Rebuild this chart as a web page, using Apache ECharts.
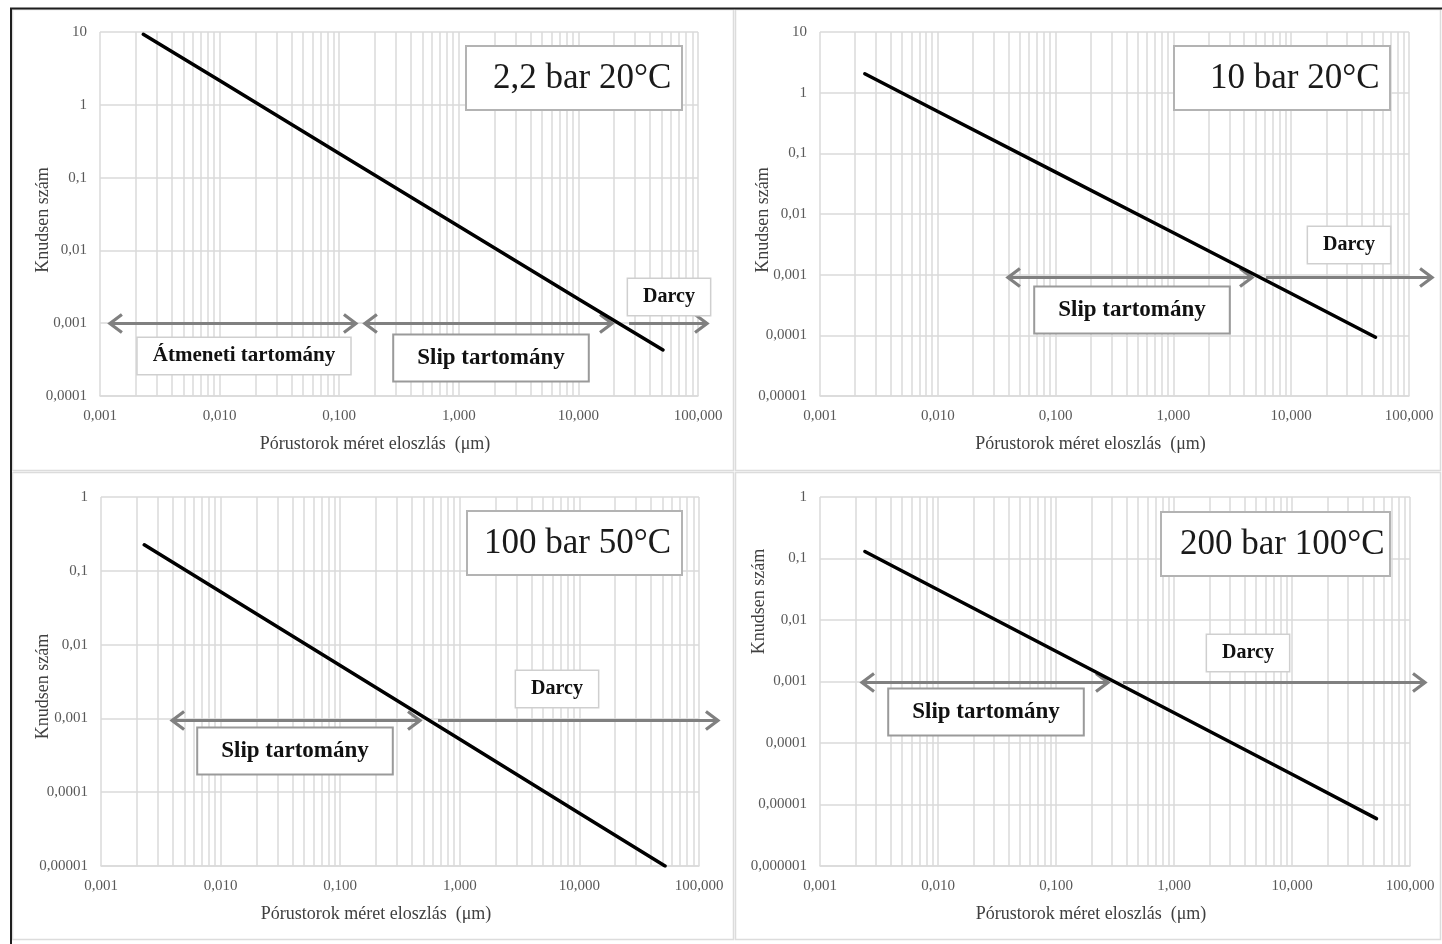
<!DOCTYPE html>
<html>
<head>
<meta charset="utf-8">
<script src="https://cdn.jsdelivr.net/npm/echarts@6/dist/echarts.min.js"></script>
<style>
  html, body { margin: 0; padding: 0; background: #fff; }
  #chart { width: 1442px; height: 944px; }
</style>
</head>
<body>
<div id="chart"></div>
<script>
// ---- Tick labels (Hungarian decimal comma) ----
const xTickLabels = ['0,001', '0,010', '0,100', '1,000', '10,000', '100,000'];
const yTickLabels = ['0,000001', '0,00001', '0,0001', '0,001', '0,01', '0,1', '1', '10'];

// ---- Panel headings: pressure and temperature ----
const panelTitles = ['2,2 bar 20°C', '10 bar 20°C', '100 bar 50°C', '200 bar 100°C'];

// ---- Knudsen number vs. pore throat size (μm) ----
const sizeP1 = [0.0023, 0.01, 0.1, 1, 10, 51];
const knP1   = [9.3, 2.15, 0.215, 0.0215, 0.00215, 0.00043];
const sizeP2 = [0.0024, 0.01, 0.1, 1, 10, 52];
const knP2   = [2.05, 0.49, 0.049, 0.0049, 0.00049, 0.000093];
const sizeP3 = [0.0023, 0.01, 0.1, 1, 10, 52];
const knP3   = [0.225, 0.052, 0.0052, 0.00052, 0.000052, 0.00001];
const sizeP4 = [0.0024, 0.01, 0.1, 1, 10, 52];
const knP4   = [0.13, 0.031, 0.0031, 0.00031, 0.000031, 0.0000059];

// ---- Flow regime ranges: [from μm, to μm, Knudsen level] ----
const regimesP1 = [[0.00121, 0.138, 0.001], [0.164, 19.1, 0.001], [26.0, 119, 0.001]];
const headsP1   = ['both', 'both', 'right'];
const regimesP2 = [[0.0394, 4.65, 0.00093], [6.0, 157, 0.00093]];
const headsP2   = ['both', 'right'];
const regimesP3 = [[0.00393, 0.465, 0.00094], [0.645, 144, 0.00094]];
const headsP3   = ['both', 'right'];
const regimesP4 = [[0.00227, 0.276, 0.00098], [0.362, 134, 0.00098]];
const headsP4   = ['both', 'right'];

// ---- Regime names and where they sit: [μm, Knudsen] ----
const namesP1 = ['Átmeneti tartomány', 'Slip tartomány', 'Darcy'];
const namePosP1 = [[0.0159, 0.000358], [1.86, 0.000336], [57.3, 0.00231]];
const namesP2 = ['Slip tartomány', 'Darcy'];
const namePosP2 = [[0.445, 0.000265], [30.9, 0.00312]];
const namesP3 = ['Slip tartomány', 'Darcy'];
const namePosP3 = [[0.0415, 0.000357], [6.44, 0.00247]];
const namesP4 = ['Slip tartomány', 'Darcy'];
const namePosP4 = [[0.0255, 0.000319], [4.24, 0.0029]];

// ---- Styling ----
const SERIF = '"Liberation Serif", "Times New Roman", serif';
const GRID_COLOR = '#dadada';
const ARROW_COLOR = '#808080';

// minor vertical grid lines at 2..9 of each decade
const minorXs = [];
for (let d = -3; d <= 1; d++) {
  for (let k = 2; k <= 9; k++) minorXs.push(k * Math.pow(10, d));
}

const panels = [
  { grid: { left: 100, top: 32, width: 598, height: 364 }, yMin: 0.0001, yMax: 10, split: 5,
    size: sizeP1, kn: knP1, regimes: regimesP1, heads: headsP1, names: namesP1, namePos: namePosP1,
    yNameGap: 48, yNamePad: [0, 12, 0, 0],
    title: { left: 466, top: 46, padding: [15, 11, 13, 27] } },
  { grid: { left: 820, top: 32, width: 589, height: 364 }, yMin: 0.00001, yMax: 10, split: 6,
    size: sizeP2, kn: knP2, regimes: regimesP2, heads: headsP2, names: namesP2, namePos: namePosP2,
    yNameGap: 48, yNamePad: [0, 12, 0, 0],
    title: { left: 1174, top: 46, padding: [15, 11, 13, 36] } },
  { grid: { left: 101, top: 497, width: 598, height: 369 }, yMin: 0.00001, yMax: 1, split: 5,
    size: sizeP3, kn: knP3, regimes: regimesP3, heads: headsP3, names: namesP3, namePos: namePosP3,
    yNameGap: 49, yNamePad: [0, 10, 0, 0],
    title: { left: 467, top: 511, padding: [15, 11, 13, 17] } },
  { grid: { left: 820, top: 497, width: 590, height: 369 }, yMin: 0.000001, yMax: 1, split: 6,
    size: sizeP4, kn: knP4, regimes: regimesP4, heads: headsP4, names: namesP4, namePos: namePosP4,
    yNameGap: 52, yNamePad: [0, 0, 0, 160],
    title: { left: 1161, top: 512, padding: [15, 6, 13, 19] } }
];

function decadeIndex(v) { return Math.round(Math.log10(v)); }

const grids = [], xAxes = [], yAxes = [], series = [], titles = [];

panels.forEach((p, i) => {
  grids.push(Object.assign({ outerBoundsMode: 'none', containLabel: false }, p.grid));

  xAxes.push({
    type: 'log', logBase: 10, min: 0.001, max: 100, gridIndex: i,
    axisLine: { show: true, lineStyle: { color: GRID_COLOR, width: 1.5 } },
    axisTick: { show: false },
    axisLabel: {
      formatter: v => xTickLabels[decadeIndex(v) + 3],
      color: '#595959', fontFamily: SERIF, fontSize: 15, margin: 13
    },
    splitLine: { show: true, lineStyle: { color: GRID_COLOR, width: 1.5 } },
    name: 'Pórustorok méret eloszlás  (μm)',
    nameLocation: 'middle', nameGap: 39, nameMoveOverlap: false,
    nameTextStyle: { fontFamily: SERIF, fontSize: 18, color: '#404040', padding: [0, 48, 0, 0] }
  });

  yAxes.push({
    type: 'log', logBase: 10, min: p.yMin, max: p.yMax, splitNumber: p.split, gridIndex: i,
    axisLine: { show: false },
    axisTick: { show: false },
    axisLabel: {
      formatter: v => yTickLabels[decadeIndex(v) + 6],
      color: '#595959', fontFamily: SERIF, fontSize: 15, margin: 13
    },
    splitLine: { show: true, lineStyle: { color: GRID_COLOR, width: 1.5 } },
    name: 'Knudsen szám',
    nameLocation: 'middle', nameGap: p.yNameGap, nameMoveOverlap: false,
    nameTextStyle: { fontFamily: SERIF, fontSize: 18, color: '#404040', padding: p.yNamePad }
  });

  // minor vertical grid lines
  series.push({
    type: 'custom', xAxisIndex: i, yAxisIndex: i, silent: true, clip: false,
    data: minorXs.map(v => [v, p.yMin]),
    renderItem: function (params, api) {
      const cs = params.coordSys;
      const x = Math.round(api.coord([api.value(0), p.yMin])[0]);
      return {
        type: 'line',
        shape: { x1: x, y1: cs.y, x2: x, y2: cs.y + cs.height },
        style: { stroke: GRID_COLOR, lineWidth: 1.5 }
      };
    }
  });

  // Knudsen number curve
  series.push({
    type: 'line', xAxisIndex: i, yAxisIndex: i, silent: true,
    data: p.size.map((s, k) => [s, p.kn[k]]),
    showSymbol: false, symbol: 'none',
    lineStyle: { color: '#000', width: 3.5, cap: 'round' },
    z: 4
  });

  // regime arrows
  series.push({
    type: 'custom', xAxisIndex: i, yAxisIndex: i, silent: true, clip: false,
    encode: { x: [0, 1], y: 2 },
    data: p.regimes,
    z: 3,
    renderItem: function (params, api) {
      const a = api.coord([api.value(0), api.value(2)]);
      const b = api.coord([api.value(1), api.value(2)]);
      const y = Math.round(a[1]) + 0.5;
      const heads = p.heads[params.dataIndex];
      const st = { stroke: ARROW_COLOR, lineWidth: 3.2, fill: null, lineJoin: 'miter' };
      const children = [{ type: 'line', shape: { x1: a[0] + 1, y1: y, x2: b[0] - 1, y2: y }, style: st }];
      children.push({ type: 'polyline', shape: { points: [[b[0] - 12, y - 9], [b[0], y], [b[0] - 12, y + 9]] }, style: st });
      if (heads === 'both') {
        children.push({ type: 'polyline', shape: { points: [[a[0] + 12, y - 9], [a[0], y], [a[0] + 12, y + 9]] }, style: st });
      }
      return { type: 'group', children: children };
    }
  });

  // regime name boxes
  series.push({
    type: 'custom', xAxisIndex: i, yAxisIndex: i, silent: true, clip: false,
    data: p.namePos,
    z: 5,
    renderItem: function (params, api) {
      const pt = api.coord([api.value(0), api.value(1)]);
      const t = p.names[params.dataIndex];
      let size, border, bw, pad;
      if (t === 'Darcy') {
        size = 20; border = '#cfcfcf'; bw = 1.5; pad = [9, 15, 7, 15];
      } else if (t.indexOf('Átmeneti') === 0) {
        size = 21; border = '#cfcfcf'; bw = 1.5; pad = [8, 15, 7, 15];
      } else {
        size = 23; border = '#9a9a9a'; bw = 2; pad = [12, 23, 10, 23];
      }
      return {
        type: 'text', x: Math.round(pt[0]), y: Math.round(pt[1]),
        style: {
          text: t, fontFamily: SERIF, fontSize: size, fontWeight: 'bold', fill: '#111',
          align: 'center', verticalAlign: 'middle',
          backgroundColor: '#fff', borderColor: border, borderWidth: bw, padding: pad
        }
      };
    }
  });

  titles.push({
    text: panelTitles[i],
    left: p.title.left, top: p.title.top, padding: p.title.padding,
    backgroundColor: '#fff', borderColor: '#b3b3b3', borderWidth: 2,
    textStyle: { fontFamily: SERIF, fontSize: 35, fontWeight: 'normal', color: '#1a1a1a', lineHeight: 36 }
  });
});

// panel frames
const frameStyle = { fill: 'none', stroke: '#dcdcdc', lineWidth: 1.5 };
const graphics = [
  { type: 'rect', silent: true, shape: { x: 12.5, y: 9.5, width: 721, height: 461 }, style: frameStyle },
  { type: 'rect', silent: true, shape: { x: 735.5, y: 9.5, width: 705, height: 461 }, style: frameStyle },
  { type: 'rect', silent: true, shape: { x: 12.5, y: 472.5, width: 721, height: 467 }, style: frameStyle },
  { type: 'rect', silent: true, shape: { x: 735.5, y: 472.5, width: 705, height: 467 }, style: frameStyle },
  { type: 'line', silent: true, shape: { x1: 10, y1: 8.5, x2: 1442, y2: 8.5 }, style: { stroke: '#1e1e1e', lineWidth: 2 } },
  { type: 'line', silent: true, shape: { x1: 11, y1: 8, x2: 11, y2: 944 }, style: { stroke: '#1e1e1e', lineWidth: 2 } }
];

const chart = echarts.init(document.getElementById('chart'), null, { renderer: 'canvas' });
chart.setOption({
  animation: false,
  backgroundColor: '#fff',
  title: titles,
  grid: grids,
  xAxis: xAxes,
  yAxis: yAxes,
  series: series,
  graphic: graphics
});
</script>
</body>
</html>
